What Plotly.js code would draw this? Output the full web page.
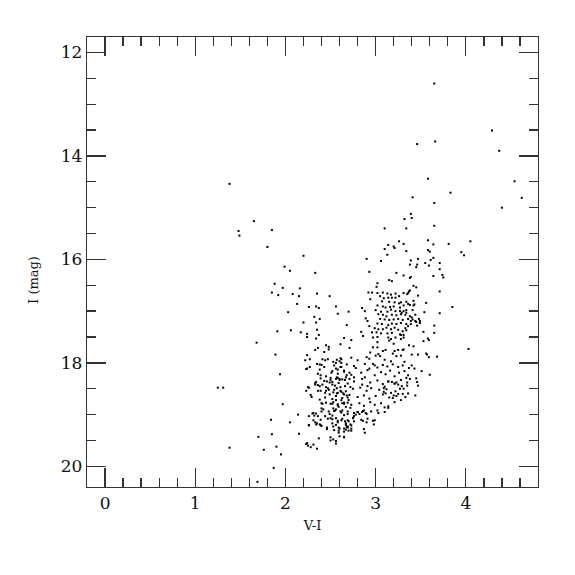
<!DOCTYPE html>
<html><head><meta charset="utf-8">
<script src="https://cdn.plot.ly/plotly-3.0.1.min.js"></script>
<style>html,body{margin:0;padding:0;background:#fff}#chart{width:575px;height:575px}</style>
</head><body><div id="chart"></div>
<script>
// [V-I, I] pairs
const brightGiants = [[3.65,12.60],[4.29,13.51],[3.46,13.77],[3.66,13.72],[4.37,13.90],[3.58,14.44],[4.54,14.49],[3.83,14.71],[4.62,14.81],[3.41,14.80],[3.65,14.91],[4.40,15.00],[3.39,15.12],[3.40,15.20],[3.32,15.22],[3.10,15.40],[3.34,15.40],[3.65,15.35],[3.58,15.63],[3.26,15.65],[4.05,15.65],[3.81,15.70],[3.14,15.72],[3.31,15.70],[3.64,15.71],[3.20,15.75],[3.21,15.78],[3.10,15.80],[3.34,15.84],[3.58,15.82],[3.60,15.85],[3.95,15.86],[3.98,15.92],[3.13,15.91],[2.90,15.99],[3.06,16.03],[3.39,16.02],[3.47,15.99],[3.61,16.01],[3.64,15.97],[3.38,16.10],[3.46,16.10],[3.45,16.15],[3.55,16.07],[3.59,16.12],[3.71,16.07],[3.71,16.19],[2.93,16.24],[3.23,16.26],[3.31,16.31],[3.39,16.34],[3.38,16.36],[3.64,16.32],[3.74,16.30],[3.75,16.35],[3.15,16.40],[3.18,16.42],[3.02,16.46],[3.01,16.53],[3.42,16.51],[3.45,16.54]];
const redSide = [[3.71,16.62],[3.85,16.92],[3.71,17.04],[3.56,16.84],[3.65,17.28],[3.65,17.42],[4.03,17.73],[3.68,17.88],[3.59,17.89],[3.57,17.84],[3.60,18.23],[3.51,18.16],[3.58,17.53],[3.59,17.56],[3.53,17.40],[3.47,17.84],[3.40,17.84],[3.37,17.66],[3.44,17.07],[3.44,17.19],[3.49,17.19],[3.42,16.80],[3.42,16.89],[3.47,16.70],[3.38,16.60],[3.36,16.65],[3.31,16.65],[3.54,17.02],[3.53,17.58],[3.42,17.68],[3.56,17.82],[3.31,17.74],[3.40,18.05],[3.43,18.11],[3.36,18.24],[3.38,18.31],[3.32,17.98],[3.45,18.30],[3.47,18.44],[3.35,18.44],[3.46,18.37],[3.35,18.38],[3.44,18.63],[3.33,18.66],[3.28,18.72],[3.36,18.59]];
const upperClump = [[2.92,16.64],[2.96,16.64],[3.02,16.65],[3.08,16.64],[3.13,16.66],[3.17,16.68],[3.22,16.66],[3.37,16.62],[3.05,16.71],[3.09,16.75],[3.14,16.74],[3.18,16.74],[3.22,16.74],[3.26,16.71],[2.94,16.77],[3.07,16.81],[3.15,16.82],[3.21,16.83],[3.26,16.85],[3.28,16.83],[3.34,16.82],[3.43,16.87],[3.36,16.86],[3.02,16.89],[3.08,16.91],[3.11,16.93],[3.16,16.92],[3.20,16.91],[3.27,16.93],[3.31,16.89],[3.38,16.88],[2.85,16.94],[2.88,17.00],[3.00,16.98],[3.06,17.01],[3.13,17.01],[3.17,16.97],[3.22,17.00],[3.27,17.00],[3.31,17.00],[3.34,16.98],[3.41,16.98],[2.70,17.01],[3.03,17.06],[3.08,17.07],[3.12,17.10],[3.18,17.07],[3.23,17.08],[3.28,17.06],[3.33,17.07],[3.38,17.10],[2.89,17.14],[2.91,17.19],[3.05,17.15],[3.10,17.16],[3.15,17.17],[3.20,17.16],[3.25,17.15],[3.30,17.17],[3.36,17.15],[3.41,17.16],[3.48,17.15],[3.02,17.24],[3.07,17.25],[3.14,17.27],[3.18,17.24],[3.23,17.25],[3.28,17.23],[3.34,17.25],[3.39,17.25],[2.68,17.27],[2.93,17.29],[2.99,17.33],[3.03,17.35],[3.08,17.35],[3.12,17.32],[3.17,17.35],[3.21,17.32],[3.25,17.36],[3.33,17.33],[2.84,17.40],[2.96,17.41],[3.01,17.41],[3.06,17.43],[3.13,17.43],[3.18,17.42],[3.27,17.45],[3.31,17.46],[2.86,17.48],[2.97,17.51],[3.02,17.50],[3.14,17.51],[3.17,17.54],[3.22,17.51],[3.28,17.46],[2.65,17.52],[2.73,17.56],[3.02,17.60],[3.15,17.57],[3.20,17.63],[2.97,17.70],[3.02,17.70],[3.08,17.77],[3.11,17.75],[3.21,17.77],[3.25,17.75],[3.30,17.75],[3.19,17.82],[2.94,17.80],[3.03,17.83],[3.05,17.87],[3.23,17.87],[3.28,17.86],[2.90,17.89],[3.39,17.19],[3.45,17.21],[3.49,17.23],[3.46,17.28],[3.36,17.29],[3.34,17.37],[3.30,17.39],[3.31,17.51],[3.28,17.54],[3.29,17.03],[3.34,17.03],[3.40,17.12],[3.35,16.67],[3.00,17.86],[2.93,17.92],[2.97,18.02]];
const middleStrip = [[2.62,17.93],[2.73,17.90],[2.80,17.95],[3.10,17.94],[3.17,17.97],
[2.54,18.05],[2.62,18.08],[2.68,18.03],[2.76,18.06],[2.88,18.02],[2.99,18.05],[3.02,18.09],[3.08,18.04],[3.13,18.07],[3.19,18.03],[3.25,18.08],[3.30,18.05],[3.37,18.10],
[2.58,18.21],[2.65,18.17],[2.73,18.23],[2.84,18.19],[2.91,18.14],[2.99,18.24],[3.06,18.18],[3.11,18.22],[3.16,18.15],[3.21,18.26],[3.26,18.19],[3.32,18.16],[2.93,18.11],
[2.52,18.37],[2.60,18.33],[2.69,18.40],[2.76,18.36],[2.85,18.31],[2.94,18.38],[3.02,18.34],[3.08,18.41],[3.14,18.36],[3.21,18.40],[3.28,18.33],[3.34,18.29],[2.88,18.28],[2.85,18.42],[2.91,18.45],
[2.54,18.52],[2.61,18.47],[2.67,18.55],[2.75,18.50],[2.83,18.48],[2.90,18.54],[2.95,18.49],[3.04,18.52],[3.10,18.46],[3.17,18.58],[3.25,18.42],[3.31,18.50],[3.09,18.49],[3.12,18.51],[3.27,18.50],[3.29,18.45],
[2.56,18.64],[2.63,18.68],[2.71,18.62],[2.80,18.66],[2.87,18.63],[2.93,18.69],[3.00,18.64],[3.08,18.61],[3.15,18.67],[3.23,18.64],[3.30,18.60],[3.09,18.56],[3.11,18.59],[3.19,18.68],[3.20,18.63],[3.22,18.55],[3.25,18.60],[3.18,18.37],[3.21,18.40],[3.23,18.38],[3.14,18.36],
[2.52,18.79],[2.58,18.82],[2.65,18.77],[2.73,18.81],[2.82,18.78],[2.87,18.83],[2.94,18.76],[2.99,18.81],[3.06,18.78],[3.14,18.84],[3.21,18.76],[3.10,18.86],[3.14,18.87],
[2.54,18.93],[2.62,18.96],[2.69,18.94],[2.76,18.97],[2.80,18.95],[2.86,18.93],[2.89,18.97],[2.95,18.94],[3.02,18.92],[3.10,18.95],[3.03,18.97],
[2.52,19.09],[2.58,19.12],[2.63,19.08],[2.69,19.11],[2.75,19.07],[2.84,19.10],[2.91,19.08],[2.99,19.11],
[2.54,19.30],[2.60,19.27],[2.65,19.33],[2.69,19.25],[2.73,19.31],[2.87,19.28]];
const lowerClump = [[2.22,17.95],[2.27,17.93],[2.41,17.93],[2.44,17.95],[2.47,17.93],[2.53,17.98],[2.56,18.00],[2.60,17.97],[2.24,18.11],[2.27,18.08],[2.38,18.03],[2.43,18.08],[2.52,18.16],[2.56,18.11],[2.58,18.13],[2.61,18.08],[1.94,18.22],[2.36,18.21],[2.39,18.24],[2.45,18.26],[2.50,18.29],[2.50,18.33],[2.33,18.39],[2.43,18.35],[2.36,18.43],[2.41,18.42],[2.45,18.47],[2.49,18.38],[2.52,18.42],[2.56,18.31],[2.58,18.29],[2.59,18.39],[2.57,18.49],[2.26,18.48],[2.23,18.54],[2.28,18.62],[2.29,18.66],[2.39,18.54],[2.44,18.58],[2.48,18.52],[2.53,18.57],[2.58,18.58],[2.61,18.54],[2.38,18.71],[2.41,18.79],[2.45,18.77],[2.50,18.79],[2.53,18.76],[2.56,18.72],[2.58,18.80],[2.62,18.72],[1.97,18.80],[2.40,18.88],[2.42,18.90],[2.48,18.94],[2.53,18.88],[2.56,18.90],[2.59,18.85],[2.61,18.94],[2.14,19.00],[2.30,18.98],[2.32,19.02],[2.34,18.98],[2.31,19.11],[2.36,19.03],[2.39,19.10],[2.44,19.03],[2.47,19.08],[2.52,19.02],[2.56,19.07],[2.58,19.15],[2.62,19.11],[1.84,19.10],[2.05,19.15],[2.26,19.20],[2.34,19.19],[2.39,19.20],[2.46,19.25],[2.52,19.17],[2.56,19.20],[2.59,19.25],[2.15,19.37],[1.85,19.38],[1.70,19.43],[2.37,19.46],[2.50,19.44],[2.56,19.51],[2.60,19.42],[2.24,19.55],
[2.68,18.63],[2.69,18.67],[2.70,18.72],[2.69,18.77],[2.62,18.56],[2.64,18.59],[2.65,18.61],[2.67,18.85],[2.72,18.87],[2.63,18.78],[2.65,18.79],[2.63,18.92],[2.65,19.01],[2.69,18.99],[2.66,19.13],[2.67,19.17],[2.70,19.13],[2.72,19.19],[2.65,19.27],[2.67,19.29],[2.69,19.23],[2.70,19.31],[2.65,19.43],[2.56,19.56],[2.53,19.48],[2.50,19.50],[2.23,19.57],[2.25,19.60],[2.31,19.58],[2.28,19.63],[2.35,19.66],[2.36,18.54],[2.45,18.54],[2.49,18.61],[2.44,18.67],[2.52,18.70],[2.57,18.59],[2.40,18.78],[2.31,18.97],[2.40,18.94],[2.26,19.03],[2.49,18.99],[2.50,19.07],[2.55,18.92],[2.33,19.15],[2.35,19.17],[2.38,19.19],[2.40,19.22],[2.26,19.21],[2.46,19.28],[2.53,19.23],[2.59,19.31],[2.59,19.35],
[2.57,17.94],[2.61,17.91],[2.35,18.02],[2.62,18.00],[2.40,18.04],[2.23,18.12],[2.38,18.13],[2.65,18.15],[2.51,18.19],[2.71,18.19],[2.39,18.30],[2.57,18.28],[2.60,18.31],[2.63,18.32],[2.67,18.28],[2.66,18.33],[2.34,18.37],[2.46,18.36],[2.25,18.47],[2.33,18.42],[2.38,18.45],[2.47,18.49],[2.55,18.44],[2.66,18.45],[2.72,18.47],[2.68,18.24],[2.71,18.31],[2.76,18.28],[2.78,18.10],
[2.97,19.12],[2.98,19.19],[2.88,19.35],[2.65,19.44],[2.86,19.12],[2.90,19.15],[2.80,18.95],[2.82,18.99],[2.85,18.95],[2.87,18.92],[2.90,18.99],[2.78,19.00],[2.76,19.03],[2.75,19.06],[2.76,19.13],[2.73,19.21],[2.68,19.24],[2.67,19.20],[2.73,19.27]];
const blueSequence = [[1.38,14.54],[1.65,15.26],[1.48,15.45],[1.49,15.54],[1.85,15.43],[1.80,15.76],[2.20,15.93],[1.99,16.14],[2.05,16.22],[2.33,16.26],[1.88,16.47],[1.97,16.55],[2.16,16.56],[1.85,16.64],[1.92,16.69],[2.08,16.67],[2.15,16.71],[2.35,16.66],[2.49,16.71],[2.13,16.86],[2.26,16.92],[2.34,16.91],[2.37,16.94],[2.56,16.91],[2.03,17.02],[2.58,17.05],[2.32,17.11],[2.38,17.15],[2.20,17.22],[2.34,17.22],[1.91,17.39],[2.06,17.37],[2.17,17.41],[2.35,17.36],[2.24,17.44],[2.37,17.46],[2.24,17.50],[2.34,17.53],[1.68,17.61],[2.61,17.64],[2.45,17.66],[2.48,17.69],[2.36,17.71],[2.33,17.75],[2.48,17.74],[2.71,17.71],[2.43,17.79],[1.89,17.84],[2.24,17.85],[1.25,18.48],[1.31,18.48],[1.38,19.64],[1.76,19.68],[1.90,19.62],[1.95,19.77],[1.87,20.03],[1.69,20.30]];

const allStars = [].concat(brightGiants, redSide, upperClump, middleStrip, lowerClump, blueSequence);
const vi = allStars.map(p => p[0]);
const imag = allStars.map(p => p[1]);

const xRange = [-0.2, 4.8];
const yRange = [20.4, 11.7];

const axisColor = '#333';
const serif = 'DejaVu Serif, serif';

const data = [{
  type: 'scatter', mode: 'markers', x: vi, y: imag,
  marker: {symbol: 'square', size: 2, color: '#000', line: {width: 0}},
  hoverinfo: 'skip'
}];

function axis(extra) {
  return Object.assign({
    ticks: 'inside', ticklen: 19, tickwidth: 1.3, tickcolor: axisColor,
    mirror: 'allticks', showline: true, linecolor: axisColor, linewidth: 1.3,
    showgrid: false, zeroline: false,
    tickfont: {family: serif, size: 17, color: '#111'}
  }, extra);
}

const layout = {
  width: 575, height: 575,
  margin: {l: 87, r: 37, t: 37, b: 88},
  paper_bgcolor: '#fff', plot_bgcolor: '#fff',
  showlegend: false,
  xaxis: axis({
    range: xRange, tick0: 0, dtick: 1,
    minor: {dtick: 0.2, ticks: 'inside', ticklen: 9, tickwidth: 1.3, tickcolor: axisColor, showgrid: false},
    title: {text: 'V-I', font: {family: serif, size: 13, color: '#111'}, standoff: 9}
  }),
  yaxis: axis({
    range: yRange, tick0: 0, dtick: 2,
    minor: {dtick: 0.5, ticks: 'inside', ticklen: 9, tickwidth: 1.3, tickcolor: axisColor, showgrid: false}
  }),
  annotations: [{
    text: 'I (mag)', xref: 'paper', yref: 'paper', x: -0.12, y: 0.46,
    xanchor: 'center', yanchor: 'middle', textangle: -90, showarrow: false,
    font: {family: serif, size: 13, color: '#111'}
  }]
};

Plotly.newPlot('chart', data, layout, {displayModeBar: false, staticPlot: true});
</script></body></html>
